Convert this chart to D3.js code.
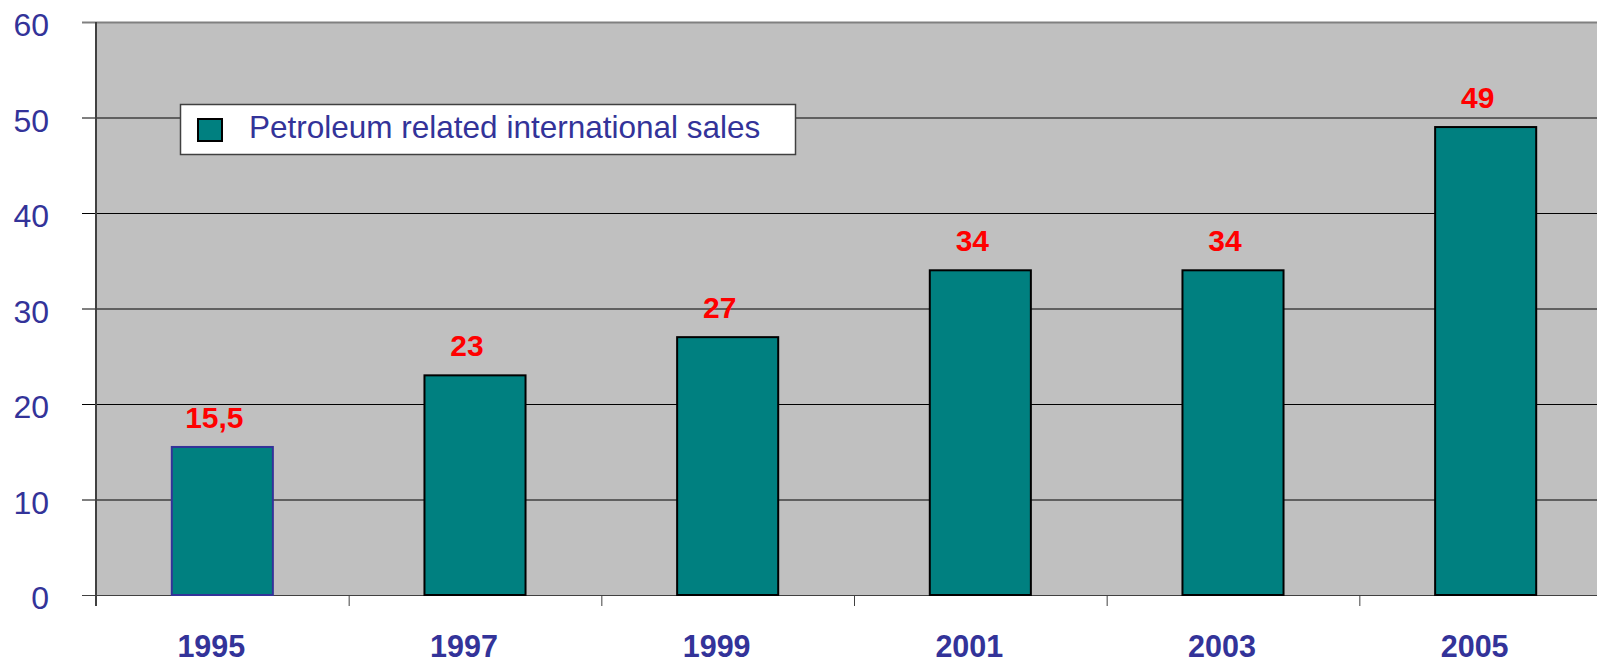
<!DOCTYPE html>
<html lang="en">
<head>
<meta charset="UTF-8">
<title>Petroleum related international sales</title>
<script src="https://d3js.org/d3.v7.min.js"></script>
<style>
  body { margin: 0; background: #fff; }
  text { font-family: "Liberation Sans", Arial, sans-serif; }
</style>
</head>
<body>
<div id="chart"></div>
<script>
// data
const years = ["1995", "1997", "1999", "2001", "2003", "2005"];
const sales = [15.5, 23, 27, 34, 34, 49];
const valueLabels = ["15,5", "23", "27", "34", "34", "49"];
const yTicks = [0, 10, 20, 30, 40, 50, 60];
const seriesName = "Petroleum related international sales";

const W = 1597, H = 664;
const plotLeft = 96, plotTop = 22, plotBottom = 595;
const plotRight = 1612; // plot runs off the right edge

const svg = d3.select("#chart").append("svg")
    .attr("width", W).attr("height", H);

const x = d3.scaleBand()
    .domain(years)
    .range([plotLeft, plotRight])
    .paddingInner(0.6)
    .paddingOuter(0.3);

const y = d3.scaleLinear()
    .domain([0, 60])
    .range([plotBottom, plotTop]);

// plot background
svg.append("rect")
    .attr("x", plotLeft).attr("y", plotTop)
    .attr("width", plotRight - plotLeft).attr("height", plotBottom - plotTop)
    .attr("fill", "#c0c0c0");

// gridlines + y ticks
svg.selectAll(".grid")
    .data(yTicks)
    .enter().append("line")
    .attr("x1", plotLeft - 14)
    .attr("x2", W)
    .attr("y1", d => y(d) + 0.5)
    .attr("y2", d => y(d) + 0.5)
    .attr("stroke", d => d === 60 ? "#808080" : (d === 0 ? "#404040" : "#000"))
    .attr("stroke-width", d => d === 60 ? 2 : 1);

// y axis line
svg.append("line")
    .attr("x1", plotLeft).attr("x2", plotLeft)
    .attr("y1", plotTop).attr("y2", plotBottom + 11)
    .attr("stroke", "#404040").attr("stroke-width", 2);

// category ticks
const step = x.step();
svg.selectAll(".xtick")
    .data(d3.range(years.length + 1))
    .enter().append("line")
    .attr("x1", i => plotLeft + i * step + 0.5)
    .attr("x2", i => plotLeft + i * step + 0.5)
    .attr("y1", plotBottom)
    .attr("y2", plotBottom + 11)
    .attr("stroke", "#404040");

// y labels
svg.selectAll(".ylab")
    .data(yTicks)
    .enter().append("text")
    .attr("x", 49)
    .attr("y", d => y(d) + 14)
    .attr("text-anchor", "end")
    .attr("font-size", 32)
    .attr("fill", "#333399")
    .text(d => d);

// x labels
svg.selectAll(".xlab")
    .data(years)
    .enter().append("text")
    .attr("x", d => x(d) + x.bandwidth() / 2 - 11)
    .attr("y", 657)
    .attr("text-anchor", "middle")
    .attr("font-size", 30.5)
    .attr("font-weight", "bold")
    .attr("fill", "#333399")
    .text(d => d);

// bars
svg.selectAll(".bar")
    .data(years)
    .enter().append("rect")
    .attr("x", d => x(d))
    .attr("y", (d, i) => y(sales[i]))
    .attr("width", x.bandwidth())
    .attr("height", (d, i) => plotBottom - y(sales[i]))
    .attr("fill", "#008080")
    .attr("stroke", (d, i) => i === 0 ? "#333399" : "#000")
    .attr("stroke-width", 2);

// value labels
svg.selectAll(".val")
    .data(years)
    .enter().append("text")
    .attr("x", d => x(d) + x.bandwidth() / 2 - 8)
    .attr("y", (d, i) => y(sales[i]) - 19)
    .attr("text-anchor", "middle")
    .attr("font-size", 30)
    .attr("font-weight", "bold")
    .attr("fill", "#ff0000")
    .text((d, i) => valueLabels[i]);

// legend
const lg = svg.append("g");
lg.append("rect")
    .attr("x", 180.5).attr("y", 104.5)
    .attr("width", 615).attr("height", 50)
    .attr("fill", "#fff")
    .attr("stroke", "#404040").attr("stroke-width", 1.5);
lg.append("rect")
    .attr("x", 198).attr("y", 119)
    .attr("width", 24).attr("height", 22)
    .attr("fill", "#008080")
    .attr("stroke", "#000").attr("stroke-width", 2);
lg.append("text")
    .attr("x", 249).attr("y", 138)
    .attr("font-size", 31.5)
    .attr("fill", "#333399")
    .text(seriesName);
</script>
</body>
</html>
